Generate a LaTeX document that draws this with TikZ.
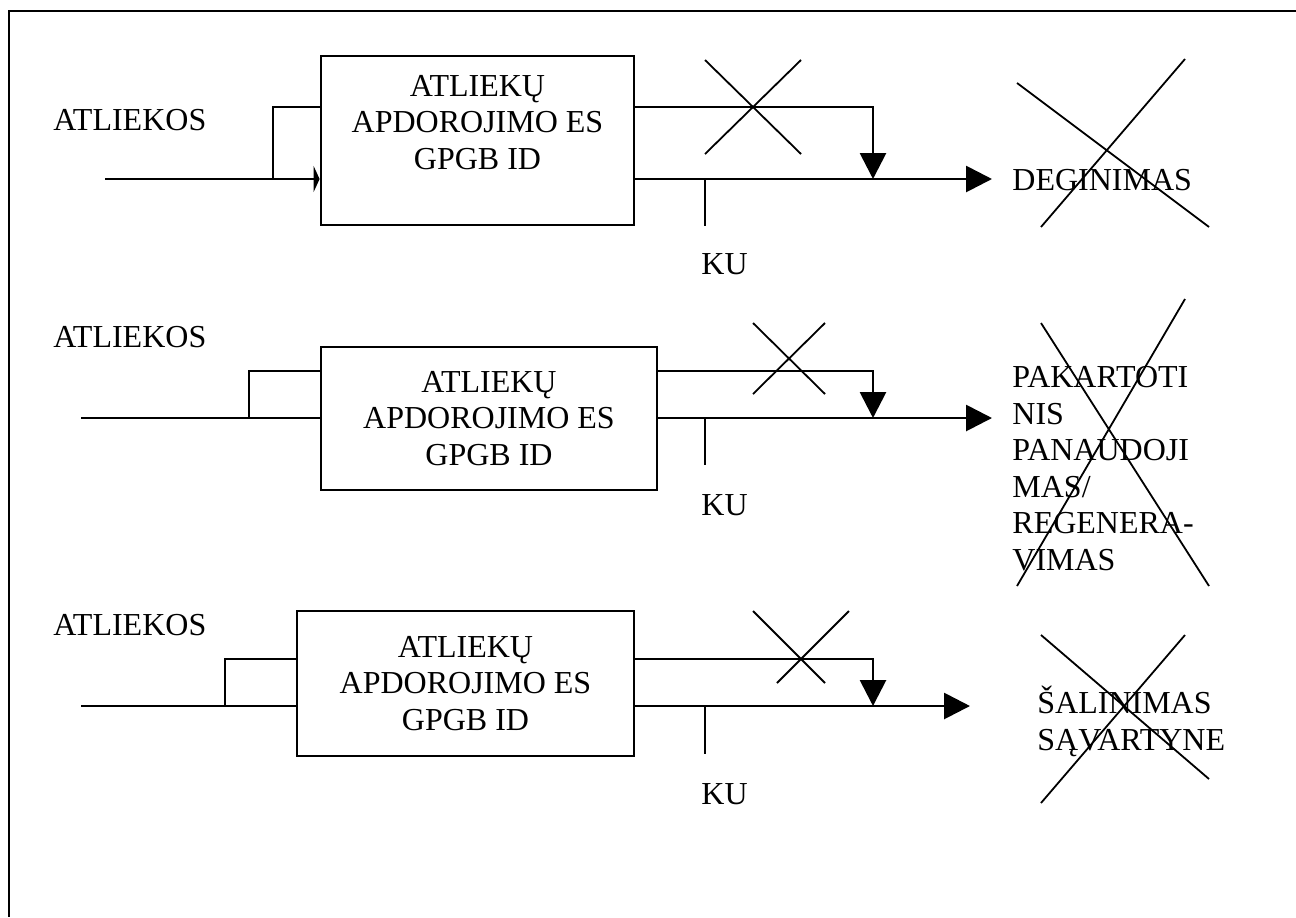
\documentclass[tikz,border=0pt]{standalone}
\usepackage{fontspec}
\setmainfont{Liberation Serif}
\usepackage{tikz}
\usetikzlibrary{arrows.meta}

\begin{document}
\begin{tikzpicture}[
        x=0.5pt, y=-0.5pt,
        font=\fontsize{16}{18.25}\selectfont,
        box/.style={rectangle, draw, line width=1.4pt, align=center, inner sep=0pt},
        lbl/.style={anchor=base west, inner sep=0pt, align=left},
        wire/.style={line width=1.4pt},
        flow/.style={wire, -{Triangle[length=13pt,width=13pt]}},
        strike/.style={line width=0.9pt}
    ]
        \useasboundingbox (0,0) rectangle (1296,917);
        \draw[wire] (1296,11) -| (9,917);

        % first line: incineration
        \node[box, minimum width=156.5pt, minimum height=84.5pt] (proc1) at (477.5,140.5)
            {ATLIEKŲ\\APDOROJIMO ES\\GPGB ID\\\mbox{}};
        \node[lbl] (src1) at (53,130)   {ATLIEKOS};
        \node[lbl] (ku1)  at (701,274)  {KU};
        \node[lbl] (dst1) at (1012,190) {DEGINIMAS};

        \coordinate (in1)  at (105,179);
        \coordinate (br1)  at (273,179);
        \coordinate (up1)  at (273,107);
        \coordinate (dn1)  at (873,107);
        \coordinate (jn1)  at (873,179);
        \coordinate (out1) at (992,179);
        \coordinate (kt1)  at (705,226);

        \draw[wire, -{Triangle[length=3pt,width=13pt]}] (in1) -- (in1 -| proc1.west);
        \draw[wire] (br1) |- (proc1.west |- up1);
        \draw[flow] (proc1.east |- dn1) -| (jn1);
        \draw[flow] (proc1.east |- out1) -- (out1);
        \draw[wire] (kt1 |- out1) -- (kt1);
        \draw[strike] (705,60) -- (801,154) (801,60) -- (705,154);
        \draw[strike] (1017,83) -- (1209,227) (1041,227) -- (1185,59);

        % second line: reuse / regeneration
        \node[box, minimum width=168pt, minimum height=71.5pt] (proc2) at (489,418.5)
            {ATLIEKŲ\\APDOROJIMO ES\\GPGB ID};
        \node[lbl] (src2) at (53,347)   {ATLIEKOS};
        \node[lbl] (ku2)  at (701,515)  {KU};
        \node[lbl] (dst2) at (1012,570)
            {PAKARTOTI\\NIS\\PANAUDOJI\\MAS/\\REGENERA-\\VIMAS};

        \coordinate (in2)  at (81,418);
        \coordinate (br2)  at (249,418);
        \coordinate (up2)  at (249,371);
        \coordinate (dn2)  at (873,371);
        \coordinate (jn2)  at (873,418);
        \coordinate (out2) at (992,418);
        \coordinate (kt2)  at (705,465);

        \draw[wire] (in2) -- (in2 -| proc2.west);
        \draw[wire] (br2) |- (proc2.west |- up2);
        \draw[flow] (proc2.east |- dn2) -| (jn2);
        \draw[flow] (proc2.east |- out2) -- (out2);
        \draw[wire] (kt2 |- out2) -- (kt2);
        \draw[strike] (753,323) -- (825,394) (825,323) -- (753,394);
        \draw[strike] (1041,323) -- (1209,586) (1185,299) -- (1017,586);

        % third line: landfill
        \node[box, minimum width=168.5pt, minimum height=72.5pt] (proc3) at (465.5,683.5)
            {ATLIEKŲ\\APDOROJIMO ES\\GPGB ID};
        \node[lbl] (src3) at (53,635)   {ATLIEKOS};
        \node[lbl] (ku3)  at (701,804)  {KU};
        \node[lbl] (dst3) at (1037,750) {ŠALINIMAS\\SĄVARTYNE};

        \coordinate (in3)  at (81,706);
        \coordinate (br3)  at (225,706);
        \coordinate (up3)  at (225,659);
        \coordinate (dn3)  at (873,659);
        \coordinate (jn3)  at (873,706);
        \coordinate (out3) at (970,706);
        \coordinate (kt3)  at (705,754);

        \draw[wire] (in3) -- (in3 -| proc3.west);
        \draw[wire] (br3) |- (proc3.west |- up3);
        \draw[flow] (proc3.east |- dn3) -| (jn3);
        \draw[flow] (proc3.east |- out3) -- (out3);
        \draw[wire] (kt3 |- out3) -- (kt3);
        \draw[strike] (753,611) -- (825,683) (849,611) -- (777,683);
        \draw[strike] (1041,635) -- (1209,779) (1185,635) -- (1041,803);
    \end{tikzpicture}
\end{document}
